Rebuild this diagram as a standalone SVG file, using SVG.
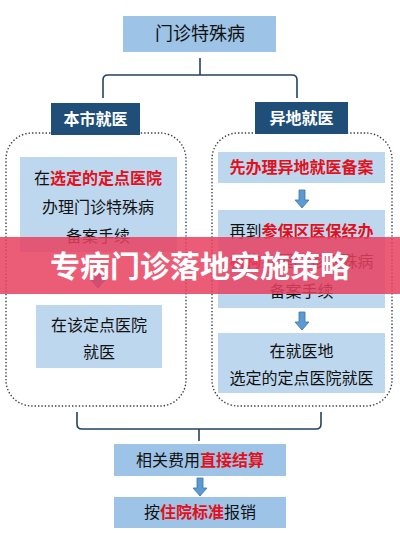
<svg xmlns="http://www.w3.org/2000/svg" width="400" height="533" viewBox="0 0 400 533">
<defs>
<style>
.bg{fill:#ffffff}
.mid{fill:#9dc3e6}
.light{fill:#bdd7ee}
.dark{fill:#1f4e79}
.frame{fill:none;stroke:#3a3f47;stroke-width:1.4;stroke-dasharray:1.4 2}
.conn{fill:none;stroke:#24425f;stroke-width:1.6}
.arrow{fill:#5b9bd5;stroke:#41719c;stroke-width:0.8}
.t{font-family:"Noto Sans CJK SC","Noto Sans CJK JP",sans-serif;font-size:16px;fill:#111;text-anchor:middle}
.r{fill:#e3101c;font-weight:bold}
.w{fill:#ffffff;font-weight:bold}
.banner{fill:#e8415f;fill-opacity:0.85}
.bt{font-family:"Noto Sans CJK SC","Noto Sans CJK JP",sans-serif;font-size:30px;font-weight:bold;fill:#ffffff;text-anchor:middle}
</style>
<g id="arr"><path class="arrow" d="M-3,0 H3 V10 H7 L0,18 L-7,10 H-3 Z"/></g>
</defs>
<rect class="bg" x="0" y="0" width="400" height="533"/>

<g id="connectors">
<path class="conn" d="M200,58 V75 M200,75 H108 Q103,75 103,80 V98 M200,75 H292 Q297,75 297,80 V98"/>
<path class="conn" d="M77,412 V424 Q77,429 82,429 H316 Q321,429 321,424 V412 M199,429 V441"/>
<use href="#arr" x="98" y="270"/>
<use href="#arr" x="302" y="190"/>
<use href="#arr" x="302" y="312"/>
<use href="#arr" x="200" y="478"/>
</g>

<g id="top">
<rect class="mid" x="123" y="16" width="153" height="36"/>
<text class="t" x="200" y="40" style="font-size:18px">门诊特殊病</text>
</g>

<g id="local-frame"><rect class="frame" x="6" y="133" width="180" height="273" rx="26"/></g>
<g id="remote-frame"><rect class="frame" x="212" y="133" width="180" height="273" rx="26"/></g>

<g id="local">
<rect class="dark" x="51" y="103" width="89" height="32"/>
<text class="t w" x="95.5" y="125">本市就医</text>
</g>
<g id="remote">
<rect class="dark" x="255" y="102" width="93" height="32"/>
<text class="t w" x="301.5" y="124">异地就医</text>
</g>

<g id="local-1">
<rect class="light" x="20" y="157" width="157" height="95"/>
<text class="t" x="98" y="184">在<tspan class="r">选定的定点医院</tspan></text>
<text class="t" x="98" y="213">办理门诊特殊病</text>
<text class="t" x="98" y="242">备案手续</text>
</g>
<g id="local-2">
<rect class="light" x="36" y="305" width="126" height="63"/>
<text class="t" x="99" y="331">在该定点医院</text>
<text class="t" x="99" y="358">就医</text>
</g>

<g id="remote-1">
<rect class="light" x="218" y="152" width="167" height="31"/>
<text class="t r" x="301.5" y="173">先办理异地就医备案</text>
</g>
<g id="remote-2">
<rect class="light" x="218" y="210" width="167" height="98"/>
<text class="t" x="301.5" y="237">再到<tspan class="r">参保区医保经办</tspan></text>
<text class="t" x="301.5" y="267"><tspan class="r">机构</tspan>办理门诊特殊病</text>
<text class="t" x="301.5" y="297">备案手续</text>
</g>
<g id="remote-3">
<rect class="light" x="218" y="333" width="167" height="60"/>
<text class="t" x="301.5" y="357">在就医地</text>
<text class="t" x="301.5" y="384">选定的定点医院就医</text>
</g>

<g id="settle">
<rect class="mid" x="114" y="444" width="172" height="32"/>
<text class="t" x="200" y="466">相关费用<tspan class="r">直接结算</tspan></text>
</g>
<g id="reimburse">
<rect class="mid" x="114" y="497" width="172" height="31"/>
<text class="t" x="200" y="518">按<tspan class="r">住院标准</tspan>报销</text>
</g>

<g id="banner">
<rect class="banner" x="0" y="237" width="400" height="57"/>
<text class="bt" x="200" y="277">专病门诊落地实施策略</text>
</g>
</svg>
